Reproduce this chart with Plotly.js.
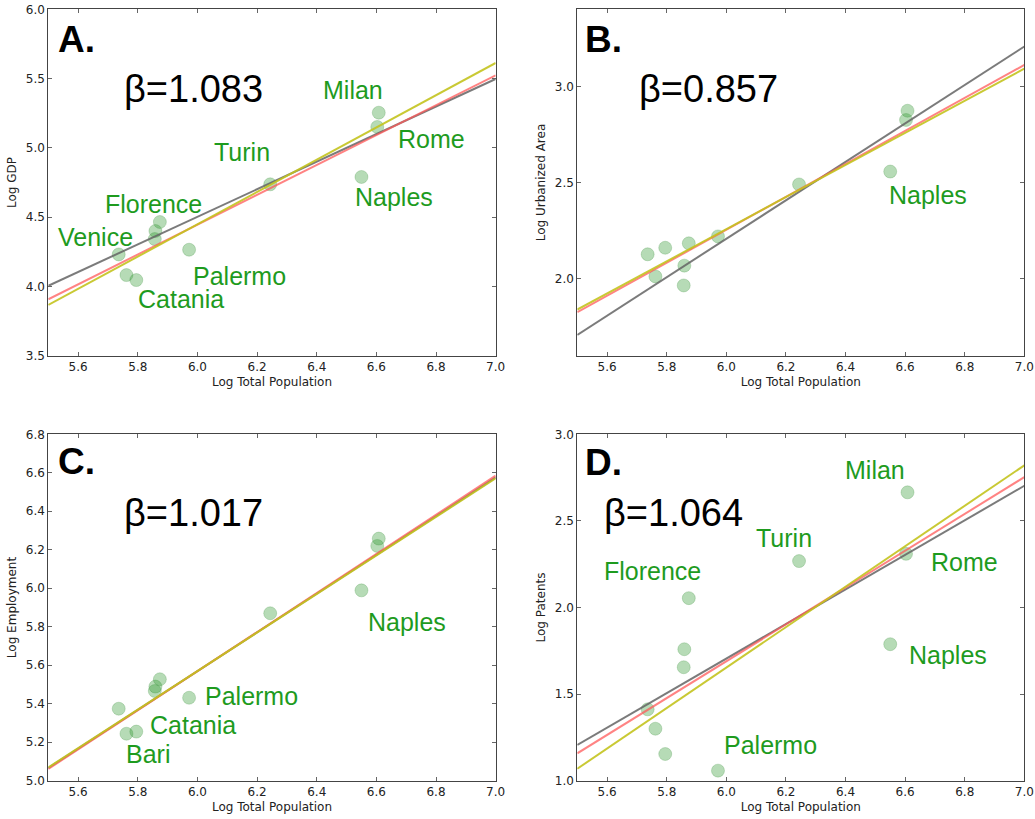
<!DOCTYPE html>
<html>
<head>
<meta charset="utf-8">
<script src="https://cdn.plot.ly/plotly-3.0.1.min.js"></script>
<style>html,body{margin:0;padding:0;background:#fff;}#chart{width:1035px;height:819px;}</style>
</head>
<body>
<div id="chart"></div>
<script>
// ---- data ----
const logPop = [5.736, 5.762, 5.795, 5.857, 5.859, 5.874, 5.972, 6.244, 6.550, 6.603, 6.608];
const logGDP = [4.231, 4.082, 4.046, 4.342, 4.400, 4.465, 4.265, 4.737, 4.790, 5.151, 5.254];
const logArea = [2.127, 2.012, 2.161, 1.965, 2.068, 2.184, 2.220, 2.490, 2.557, 2.825, 2.873];
const logEmp = [5.374, 5.244, 5.255, 5.466, 5.489, 5.527, 5.431, 5.870, 5.989, 6.220, 6.258];
const logPat = [1.412, 1.300, 1.154, 1.655, 1.759, 2.054, 1.058, 2.268, 1.788, 2.310, 2.665];

const fitX = [5.5, 7.0];
const fitA = {gray: [4.005, 5.497], red: [3.907, 5.524], yellow: [3.866, 5.613]};
const fitB = {gray: [1.708, 3.207], red: [1.826, 3.111], yellow: [1.840, 3.092]};
const fitC = {gray: [5.066, 6.576], red: [5.061, 6.585], yellow: [5.069, 6.571]};
const fitD = {gray: [1.206, 2.703], red: [1.158, 2.753], yellow: [1.069, 2.821]};

const panelLetters = ["A.", "B.", "C.", "D."];
const betas = ["β=1.083", "β=0.857", "β=1.017", "β=1.064"];
const yTitles = ["Log GDP", "Log Urbanized Area", "Log Employment", "Log Patents"];
const xTitle = "Log Total Population";
const yRanges = [[3.5, 6.0], [1.6, 3.4], [5.0, 6.8], [1.0, 3.0]];
const yDticks = [0.5, 0.5, 0.2, 0.5];

// city labels: [name, x, y]
const labelsA = [["Milan", 6.415, 5.418], ["Rome", 6.667, 5.062], ["Turin", 6.049, 4.973], ["Naples", 6.522, 4.643],
  ["Florence", 5.684, 4.595], ["Venice", 5.526, 4.354], ["Palermo", 5.980, 4.075], ["Catania", 5.794, 3.909]];
const labelsB = [["Naples", 6.538, 2.434]];
const labelsC = [["Naples", 6.566, 5.823], ["Palermo", 6.019, 5.442], ["Catania", 5.835, 5.289], ["Bari", 5.753, 5.139]];
const labelsD = [["Milan", 6.390, 2.792], ["Turin", 6.094, 2.403], ["Florence", 5.582, 2.210], ["Rome", 6.681, 2.262],
  ["Naples", 6.605, 1.728], ["Palermo", 5.987, 1.206]];
// panel letter and beta positions [x, y]
const letterPos = [[5.527, 5.78], [5.52, 3.241], [5.526, 6.658], [5.52, 2.84]];
const betaPos = [[5.746, 5.422], [5.699, 2.984], [5.746, 6.393], [5.584, 2.545]];

const yData = [logGDP, logArea, logEmp, logPat];
const fits = [fitA, fitB, fitC, fitD];
const cityLabels = [labelsA, labelsB, labelsC, labelsD];

// ---- build ----
const lineColors = {gray: "rgba(100,100,100,0.85)", red: "rgba(255,90,90,0.75)", yellow: "rgba(195,195,30,0.9)"};
const traces = [];
const annotations = [];
const layout = {
  width: 1035, height: 819,
  margin: {l: 0, r: 0, t: 0, b: 0},
  paper_bgcolor: "#fff", plot_bgcolor: "#fff",
  showlegend: false,
  font: {family: "DejaVu Sans, sans-serif", size: 12, color: "#222"}
};
const xDom = [[0.0467, 0.4789], [0.5578, 0.9897]];
const yDom = [[0.5657, 0.9886], [0.0468, 0.4697]];

for (let i = 0; i < 4; i++) {
  const s = i === 0 ? "" : String(i + 1);
  const xa = "x" + s, ya = "y" + s;
  traces.push({
    x: logPop, y: yData[i], xaxis: xa, yaxis: ya, type: "scatter", mode: "markers",
    marker: {size: 13, color: "rgba(40,150,40,0.34)", line: {width: 1, color: "rgba(40,130,40,0.22)"}},
    hoverinfo: "skip"
  });
  ["gray", "red", "yellow"].forEach(k => {
    traces.push({x: fitX, y: fits[i][k], xaxis: xa, yaxis: ya, type: "scatter", mode: "lines",
      line: {color: lineColors[k], width: 2}, hoverinfo: "skip"});
  });
  const axCommon = {
    showgrid: false, zeroline: false, showline: true, linecolor: "#444", linewidth: 1, mirror: "ticks",
    ticks: "inside", ticklen: 4, tickcolor: "#666", tickwidth: 1,
    tickfont: {family: "DejaVu Sans, sans-serif", size: 12, color: "#222"}
  };
  layout["xaxis" + s] = Object.assign({}, axCommon, {
    domain: xDom[i % 2], range: [5.5, 7.0], tick0: 5.6, dtick: 0.2, tickformat: ".1f", anchor: ya,
    title: {text: xTitle, font: {size: 12, color: "#222"}, standoff: 4}
  });
  layout["yaxis" + s] = Object.assign({}, axCommon, {
    domain: yDom[Math.floor(i / 2)], range: yRanges[i], tick0: 0, dtick: yDticks[i], tickformat: ".1f", anchor: xa,
    title: {text: yTitles[i], font: {size: 12, color: "#222"}, standoff: 6}
  });
  annotations.push({xref: xa, yref: ya, x: letterPos[i][0], y: letterPos[i][1], text: "<b>" + panelLetters[i] + "</b>",
    showarrow: false, xanchor: "left", yanchor: "middle",
    font: {family: "Liberation Sans, Arial, sans-serif", size: 37, color: "#000"}});
  annotations.push({xref: xa, yref: ya, x: betaPos[i][0], y: betaPos[i][1], text: betas[i],
    showarrow: false, xanchor: "left", yanchor: "middle",
    font: {family: "Liberation Sans, Arial, sans-serif", size: 38, color: "#000"}});
  cityLabels[i].forEach(l => {
    annotations.push({xref: xa, yref: ya, x: l[1], y: l[2], text: l[0], showarrow: false,
      xanchor: "left", yanchor: "middle",
      font: {family: "Liberation Sans, Arial, sans-serif", size: 25, color: "rgb(30,155,30)"}});
  });
}
layout.annotations = annotations;
Plotly.newPlot("chart", traces, layout, {staticPlot: true, displayModeBar: false});
</script>
</body>
</html>
